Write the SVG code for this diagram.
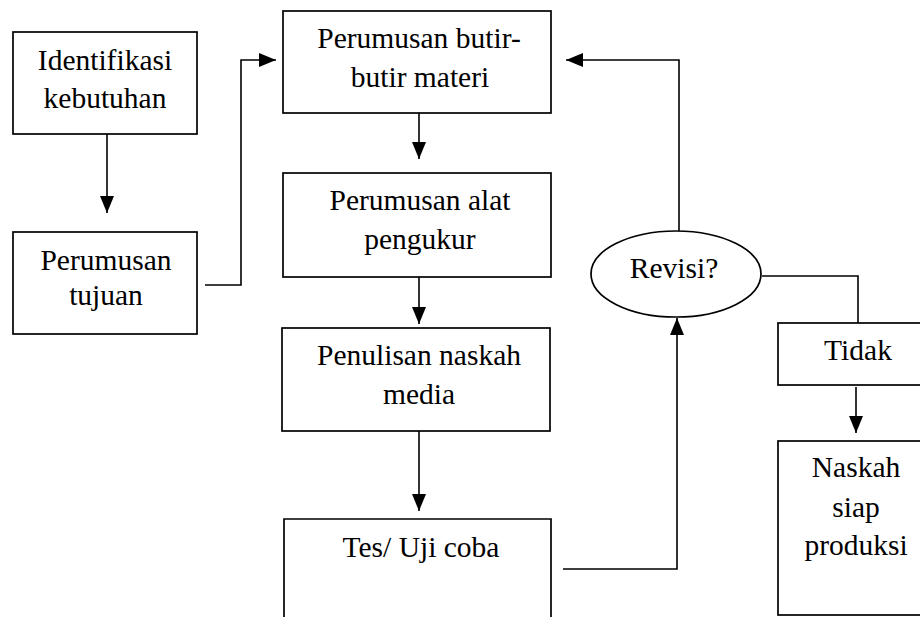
<svg xmlns="http://www.w3.org/2000/svg" width="920" height="617" viewBox="0 0 920 617">
<style>
.box{fill:#fff;stroke:#000;stroke-width:1.7}
.ln{fill:none;stroke:#000;stroke-width:1.6}
text{font-family:'Liberation Serif','Times New Roman',serif;font-size:29.5px;fill:#000;text-anchor:middle}
</style>
<defs>
<marker id="ah" markerUnits="userSpaceOnUse" markerWidth="18" markerHeight="15" refX="17" refY="7" orient="auto">
<path d="M0,0 L17,7 L0,14 Z" fill="#000"/>
</marker>
</defs>
<rect width="920" height="617" fill="#fff"/>
<g id="connectors">
<path class="ln" d="M107,134 V213" marker-end="url(#ah)"/>
<path class="ln" d="M205,285 H241 V60 H276" marker-end="url(#ah)"/>
<path class="ln" d="M419,113 V159" marker-end="url(#ah)"/>
<path class="ln" d="M419,277 V324" marker-end="url(#ah)"/>
<path class="ln" d="M419,431 V511" marker-end="url(#ah)"/>
<path class="ln" d="M563,569 H677 V318" marker-end="url(#ah)"/>
<path class="ln" d="M679,231 V60 H566" marker-end="url(#ah)"/>
<path class="ln" d="M762,276 H858 V323"/>
<path class="ln" d="M856,387 V433" marker-end="url(#ah)"/>
</g>
<g id="identifikasi">
<rect class="box" x="13" y="32" width="184" height="102"/>
<text x="105" y="70">Identifikasi</text>
<text x="105" y="108">kebutuhan</text>
</g>
<g id="tujuan">
<rect class="box" x="13" y="232" width="184" height="102"/>
<text x="106" y="270">Perumusan</text>
<text x="106" y="305">tujuan</text>
</g>
<g id="butir">
<rect class="box" x="283" y="11" width="268" height="102"/>
<text x="419" y="48">Perumusan butir-</text>
<text x="420" y="87">butir materi</text>
</g>
<g id="alat">
<rect class="box" x="283" y="173" width="268" height="104"/>
<text x="420" y="210">Perumusan alat</text>
<text x="420" y="249">pengukur</text>
</g>
<g id="penulisan">
<rect class="box" x="282" y="328" width="268" height="103"/>
<text x="419" y="365">Penulisan naskah</text>
<text x="419" y="404">media</text>
</g>
<g id="tes">
<path class="box" d="M284,622 V519 H551 V622"/>
<text x="421" y="557">Tes/ Uji coba</text>
</g>
<g id="revisi">
<ellipse class="box" cx="676" cy="274" rx="85" ry="43"/>
<text x="674" y="278">Revisi?</text>
</g>
<g id="tidak">
<rect class="box" x="778" y="323" width="160" height="62"/>
<text x="858" y="360">Tidak</text>
</g>
<g id="naskah">
<rect class="box" x="778" y="441" width="160" height="174"/>
<text x="856" y="477">Naskah</text>
<text x="856" y="517">siap</text>
<text x="856" y="555">produksi</text>
</g>
</svg>
